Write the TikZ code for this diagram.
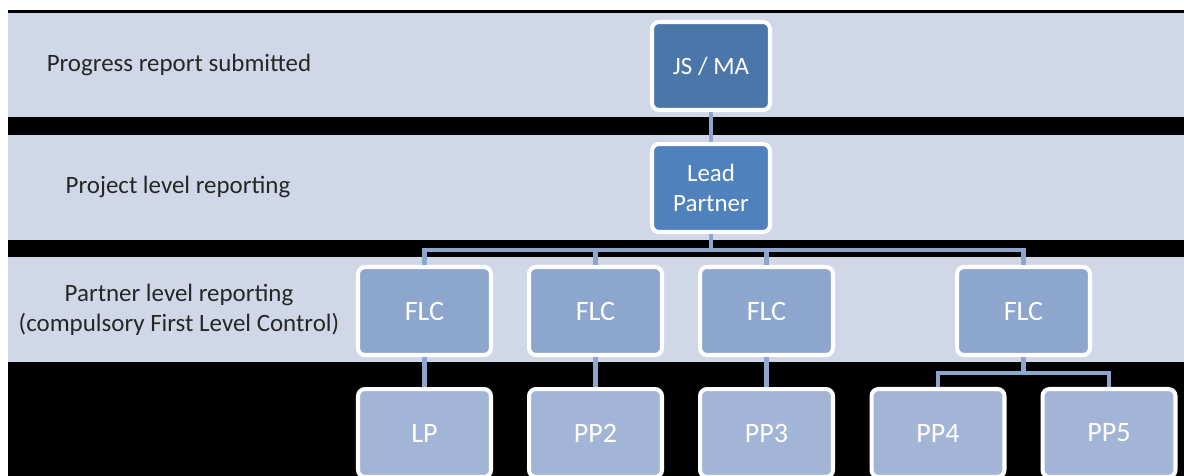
\documentclass[tikz,border=0pt]{standalone}
\usepackage{fontspec}
\setmainfont{Carlito}
\usetikzlibrary{positioning}
\definecolor{bandblue}{HTML}{D0D8E8}
\definecolor{jsblue}{HTML}{4A76AA}
\definecolor{leadblue}{HTML}{4F81BD}
\definecolor{flcblue}{HTML}{8DA6CD}
\definecolor{ppblue}{HTML}{A3B5D6}
\definecolor{linkblue}{HTML}{8DA6CD}
\begin{document}
\begin{tikzpicture}[x=0.02cm, y=-0.02cm,
				band/.style={fill=bandblue, draw=none},
				box/.style={rectangle, rounded corners=4pt, draw=white, line width=2.3pt, text=white, align=center, inner sep=0pt, minimum width=2.66cm, minimum height=1.76cm, font=\fontsize{14.2}{17}\selectfont},
				jsbox/.style={box, fill=jsblue, minimum width=2.36cm},
				leadbox/.style={box, fill=leadblue, minimum width=2.36cm},
				flcbox/.style={box, fill=flcblue, font=\fontsize{16}{19}\selectfont},
				ppbox/.style={box, fill=ppblue, font=\fontsize{16}{19}\selectfont},
				label/.style={rectangle, text=black!85, align=center, font=\fontsize{14.2}{17}\selectfont},
				link/.style={draw=linkblue, line width=2.8pt}
			]
			\useasboundingbox (0,0) rectangle (1184,476);
			\clip (0,0) rectangle (1184,476);
			\fill[black] (8,10) rectangle (1184,476);
			\fill[band] (8,12.7) rectangle (1184,117);
			\fill[band] (8,135) rectangle (1184,240);
			\fill[band] (8,257) rectangle (1184,362);
			\node[label] (submitted) at (179,65) {Progress report submitted};
			\node[label] (project) at (178,187) {Project level reporting};
			\node[label] (partner) at (179,310) {Partner level reporting\\(compulsory First Level Control)};
			\node[jsbox] (jsma) at (711,66) {JS / MA};
			\node[leadbox] (lead) [below=0.6cm of jsma] {Lead\\Partner};
			\node[flcbox] (flc1) at (424.5,311) {FLC};
			\node[flcbox] (flc2) [right=0.68cm of flc1] {FLC};
			\node[flcbox] (flc3) [right=0.68cm of flc2] {FLC};
			\node[flcbox] (flc4) at (1023.5,311) {FLC};
			\node[ppbox] (lp) [below=0.6cm of flc1] {LP};
			\node[ppbox] (pp2) [below=0.6cm of flc2] {PP2};
			\node[ppbox] (pp3) [below=0.6cm of flc3] {PP3};
			\node[ppbox] (pp4) at (938,433) {PP4};
			\node[ppbox] (pp5) [right=0.68cm of pp4] {PP5};
			\coordinate (bus) at (711,250);
			\coordinate (fork) at (1023.5,373);
			\begin{scope}[link]
			\draw (jsma) -- (lead);
			\foreach \f in {flc1,flc2,flc3,flc4}
				\draw (lead.south) -- (bus) -| (\f.north);
			\draw (flc1) -- (lp);
			\draw (flc2) -- (pp2);
			\draw (flc3) -- (pp3);
			\draw (flc4.south) -- (fork) -| (pp4.north);
			\draw (flc4.south) -- (fork) -| (pp5.north);
			\end{scope}
			\end{tikzpicture}
\end{document}
